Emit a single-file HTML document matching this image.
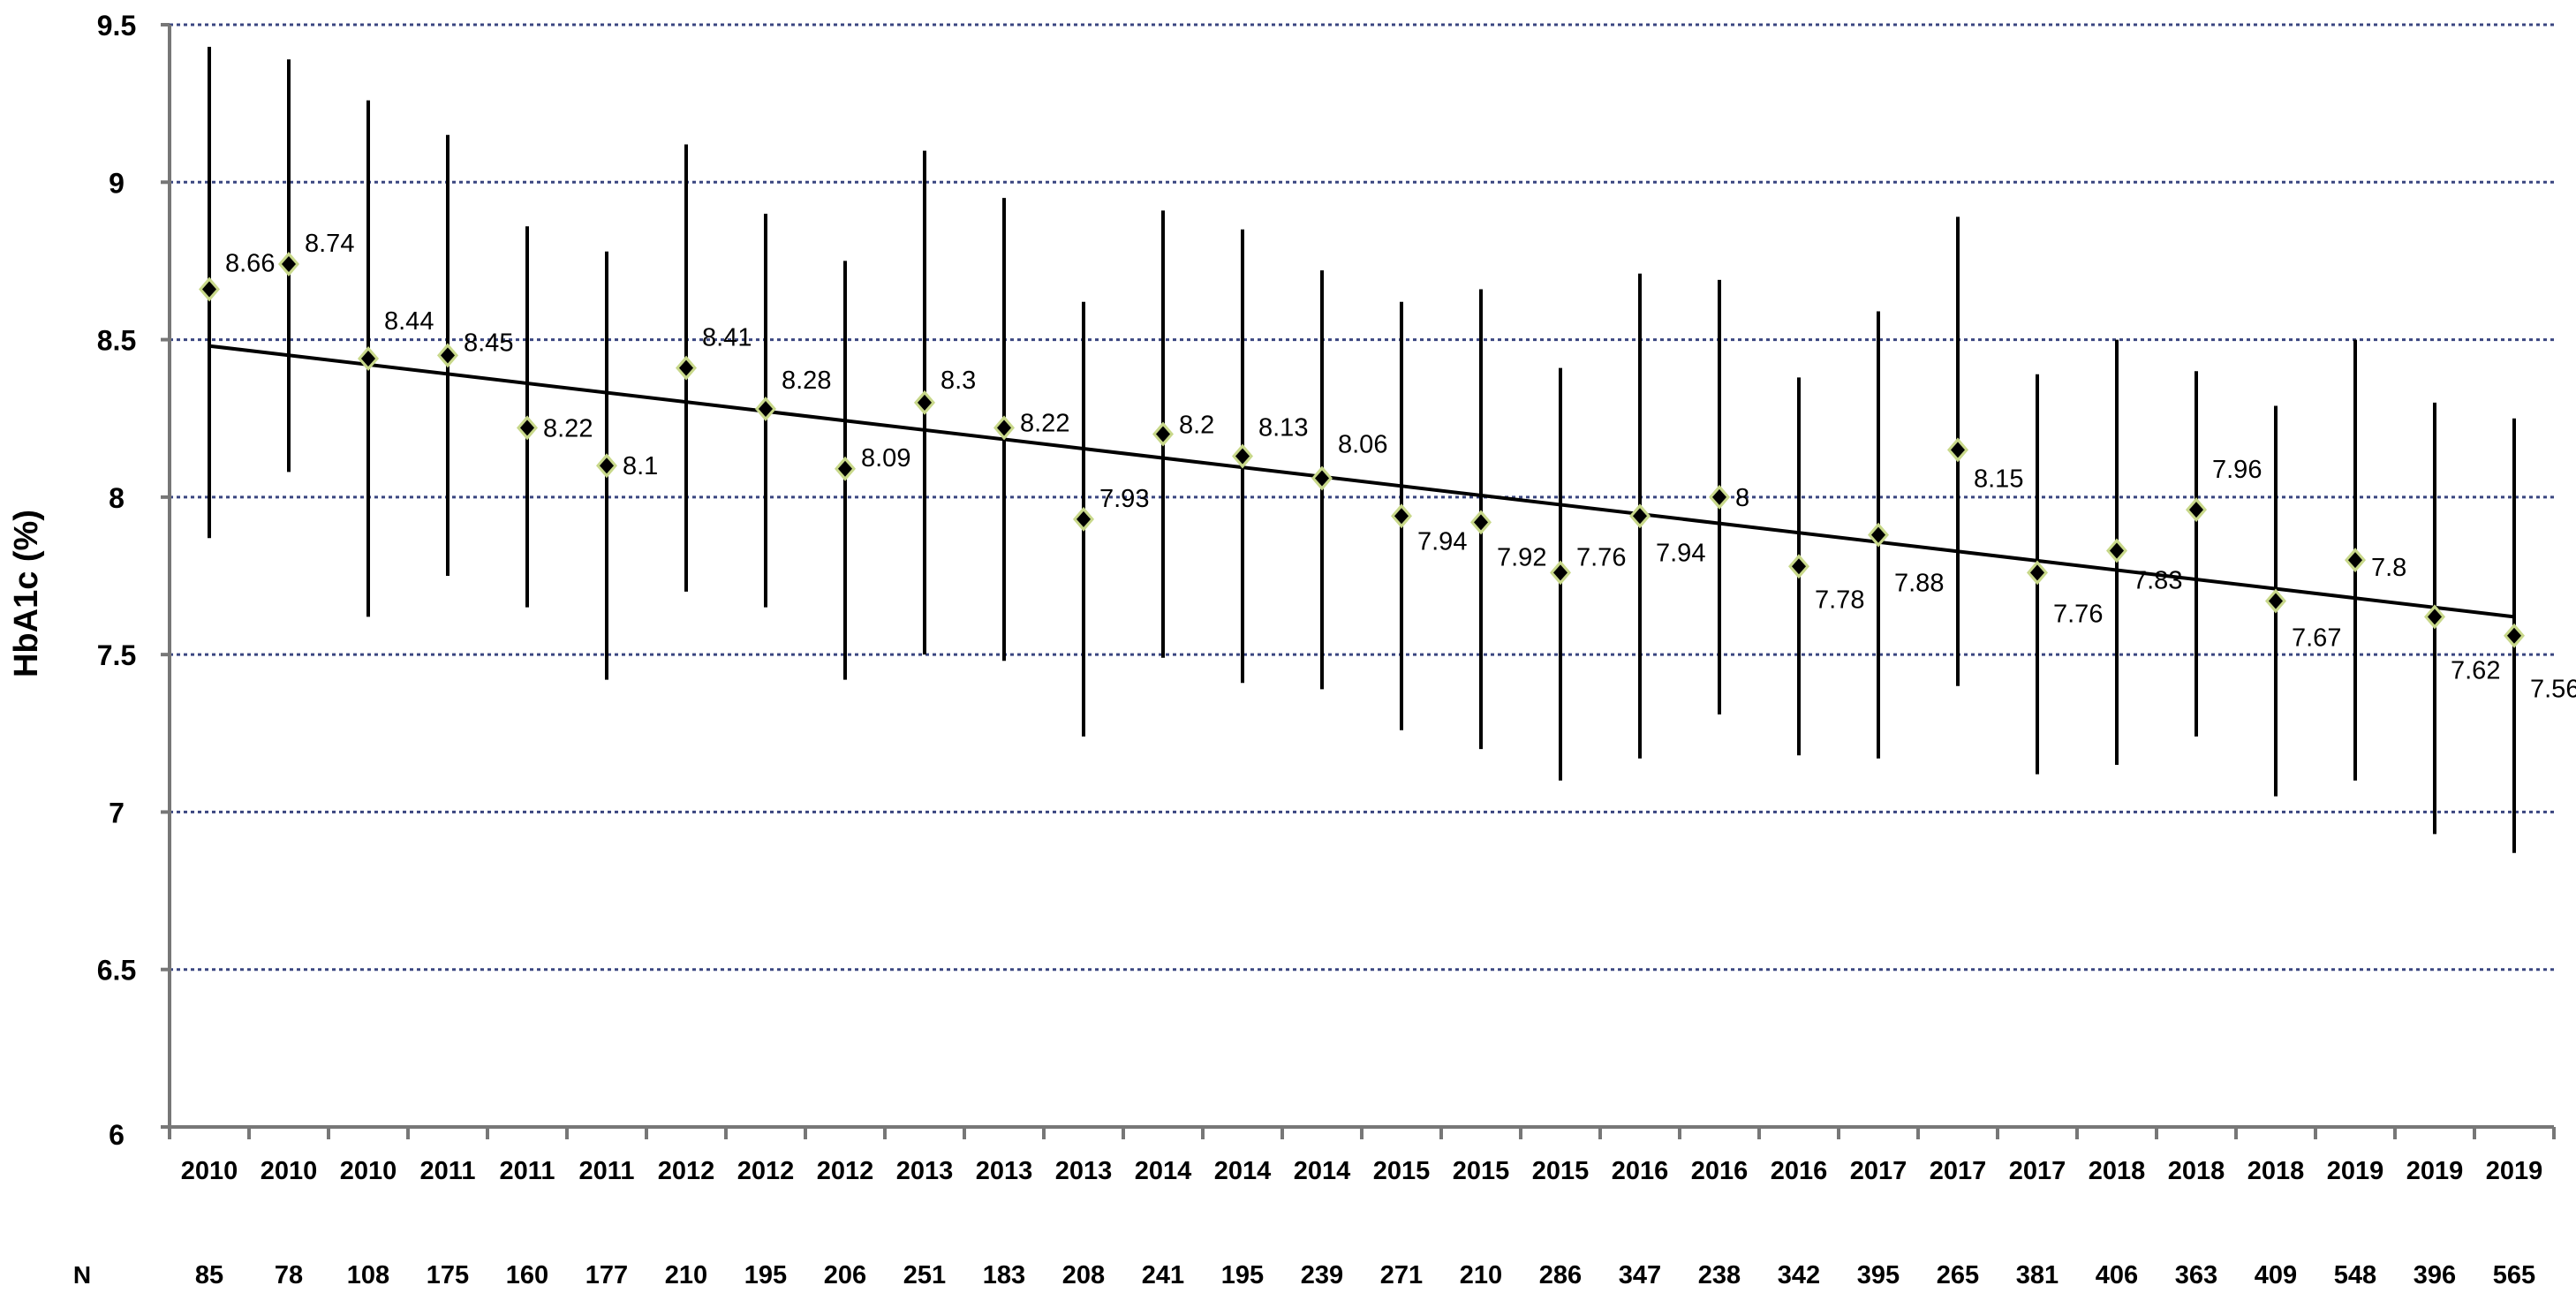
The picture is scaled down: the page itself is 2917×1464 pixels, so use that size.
<!DOCTYPE html>
<html><head><meta charset="utf-8"><style>
html,body{margin:0;padding:0;background:#fff;}
svg{display:block;font-family:"Liberation Sans",sans-serif;}
</style></head><body>
<svg id="chart" width="2917" height="1464" viewBox="0 0 2917 1464">
<g id="grid"></g>
<g id="axes"></g>
<g id="bars"></g>
<g id="trend"></g>
<g id="points"></g>
<g id="labels"></g>
<text x="42" y="672" transform="rotate(-90 42 672)" text-anchor="middle" font-size="38" font-weight="bold">HbA1c (%)</text>
<text x="93" y="1453" text-anchor="middle" font-size="28" font-weight="bold">N</text>
</svg>
<script>
const years = [2010,2010,2010,2011,2011,2011,2012,2012,2012,2013,2013,2013,2014,2014,2014,2015,2015,2015,2016,2016,2016,2017,2017,2017,2018,2018,2018,2019,2019,2019];
const nValues = [85,78,108,175,160,177,210,195,206,251,183,208,241,195,239,271,210,286,347,238,342,395,265,381,406,363,409,548,396,565];
const means = [8.66,8.74,8.44,8.45,8.22,8.1,8.41,8.28,8.09,8.3,8.22,7.93,8.2,8.13,8.06,7.94,7.92,7.76,7.94,8,7.78,7.88,8.15,7.76,7.83,7.96,7.67,7.8,7.62,7.56];
const upper = [9.43,9.39,9.26,9.15,8.86,8.78,9.12,8.90,8.75,9.10,8.95,8.62,8.91,8.85,8.72,8.62,8.66,8.41,8.71,8.69,8.38,8.59,8.89,8.39,8.50,8.40,8.29,8.50,8.30,8.25];
const lower = [7.87,8.08,7.62,7.75,7.65,7.42,7.70,7.65,7.42,7.50,7.48,7.24,7.49,7.41,7.39,7.26,7.20,7.10,7.17,7.31,7.18,7.17,7.40,7.12,7.15,7.24,7.05,7.10,6.93,6.87];
const trendStart = 8.48, trendEnd = 7.62;
const yTicks = [6,6.5,7,7.5,8,8.5,9,9.5];
const labelDy = [-30,-24,-43,-15,0,0,-35,-33,-13,-26,-6,-24,-11,-33,-39,28,39,-18,41,0,37,54,32,46,33,-46,41,8,60,60];

const NS="http://www.w3.org/2000/svg";
const X0=192, X1=2892, Y6=1276, Y95=28;
const n=means.length, step=(X1-X0)/n;
const xs=i=>X0+step*(i+0.5);
const ys=v=>Y6-(v-6)/(3.5)*(Y6-Y95);
function mk(tag,attrs,parent,text){const e=document.createElementNS(NS,tag);for(const k in attrs)e.setAttribute(k,attrs[k]);if(text!==undefined)e.textContent=text;parent.appendChild(e);return e;}
const G=id=>document.getElementById(id);

yTicks.forEach(t=>{
  const y=ys(t);
  if(t>6){const l=mk('line',{x1:X0,x2:X1,y1:y,y2:y,stroke:'#3a4680','stroke-width':3,'stroke-dasharray':'4 4'},G('grid'));
  
  }
  const tk=mk('line',{x1:X0-10,x2:X0,y1:y,y2:y,stroke:'#777','stroke-width':4},G('axes'));
  
  
  const lb=mk('text',{x:132,y:y+(t===6?20:12),'text-anchor':'middle','font-size':32,'font-weight':'bold'},G('axes'),String(t));
  
  
});
const ya=mk('line',{x1:X0,x2:X0,y1:Y95,y2:Y6,stroke:'#777','stroke-width':4},G('axes'));


const xa=mk('line',{x1:X0-10,x2:X1,y1:Y6,y2:Y6,stroke:'#777','stroke-width':4},G('axes'));


for(let i=0;i<=n;i++){
  const x=X0+step*i;
  const tk=mk('line',{x1:x,x2:x,y1:Y6,y2:Y6+14,stroke:'#777','stroke-width':4},G('axes'));
  
  
}
years.forEach((yr,i)=>{
  const t=mk('text',{x:xs(i),y:1335,'text-anchor':'middle','font-size':29,'font-weight':'bold'},G('axes'),String(yr));
  
  
  const nn=mk('text',{x:xs(i),y:1453,'text-anchor':'middle','font-size':29,'font-weight':'bold'},G('axes'),String(nValues[i]));
  
  
});
means.forEach((m,i)=>{
  const x=xs(i);
  const b=mk('line',{x1:x,x2:x,y1:ys(upper[i]),y2:ys(lower[i]),stroke:'#000','stroke-width':4},G('bars'));
  
  
});
const tl=mk('line',{x1:xs(0),x2:xs(n-1),y1:ys(trendStart),y2:ys(trendEnd),stroke:'#000','stroke-width':4},G('trend'));


means.forEach((m,i)=>{
  const x=xs(i),y=ys(m);
  const g=mk('polygon',{points:`${x},${y-14} ${x+12},${y} ${x},${y+14} ${x-12},${y}`,fill:'#c8d88a'},G('points'));
  
  
  const p=mk('polygon',{points:`${x},${y-9} ${x+8},${y} ${x},${y+9} ${x-8},${y}`,fill:'#000'},G('points'));
  
  
  const t=mk('text',{x:x+18,y:y+labelDy[i]+10,'font-size':29},G('labels'),String(m));
  
  
});
</script>
</body></html>
